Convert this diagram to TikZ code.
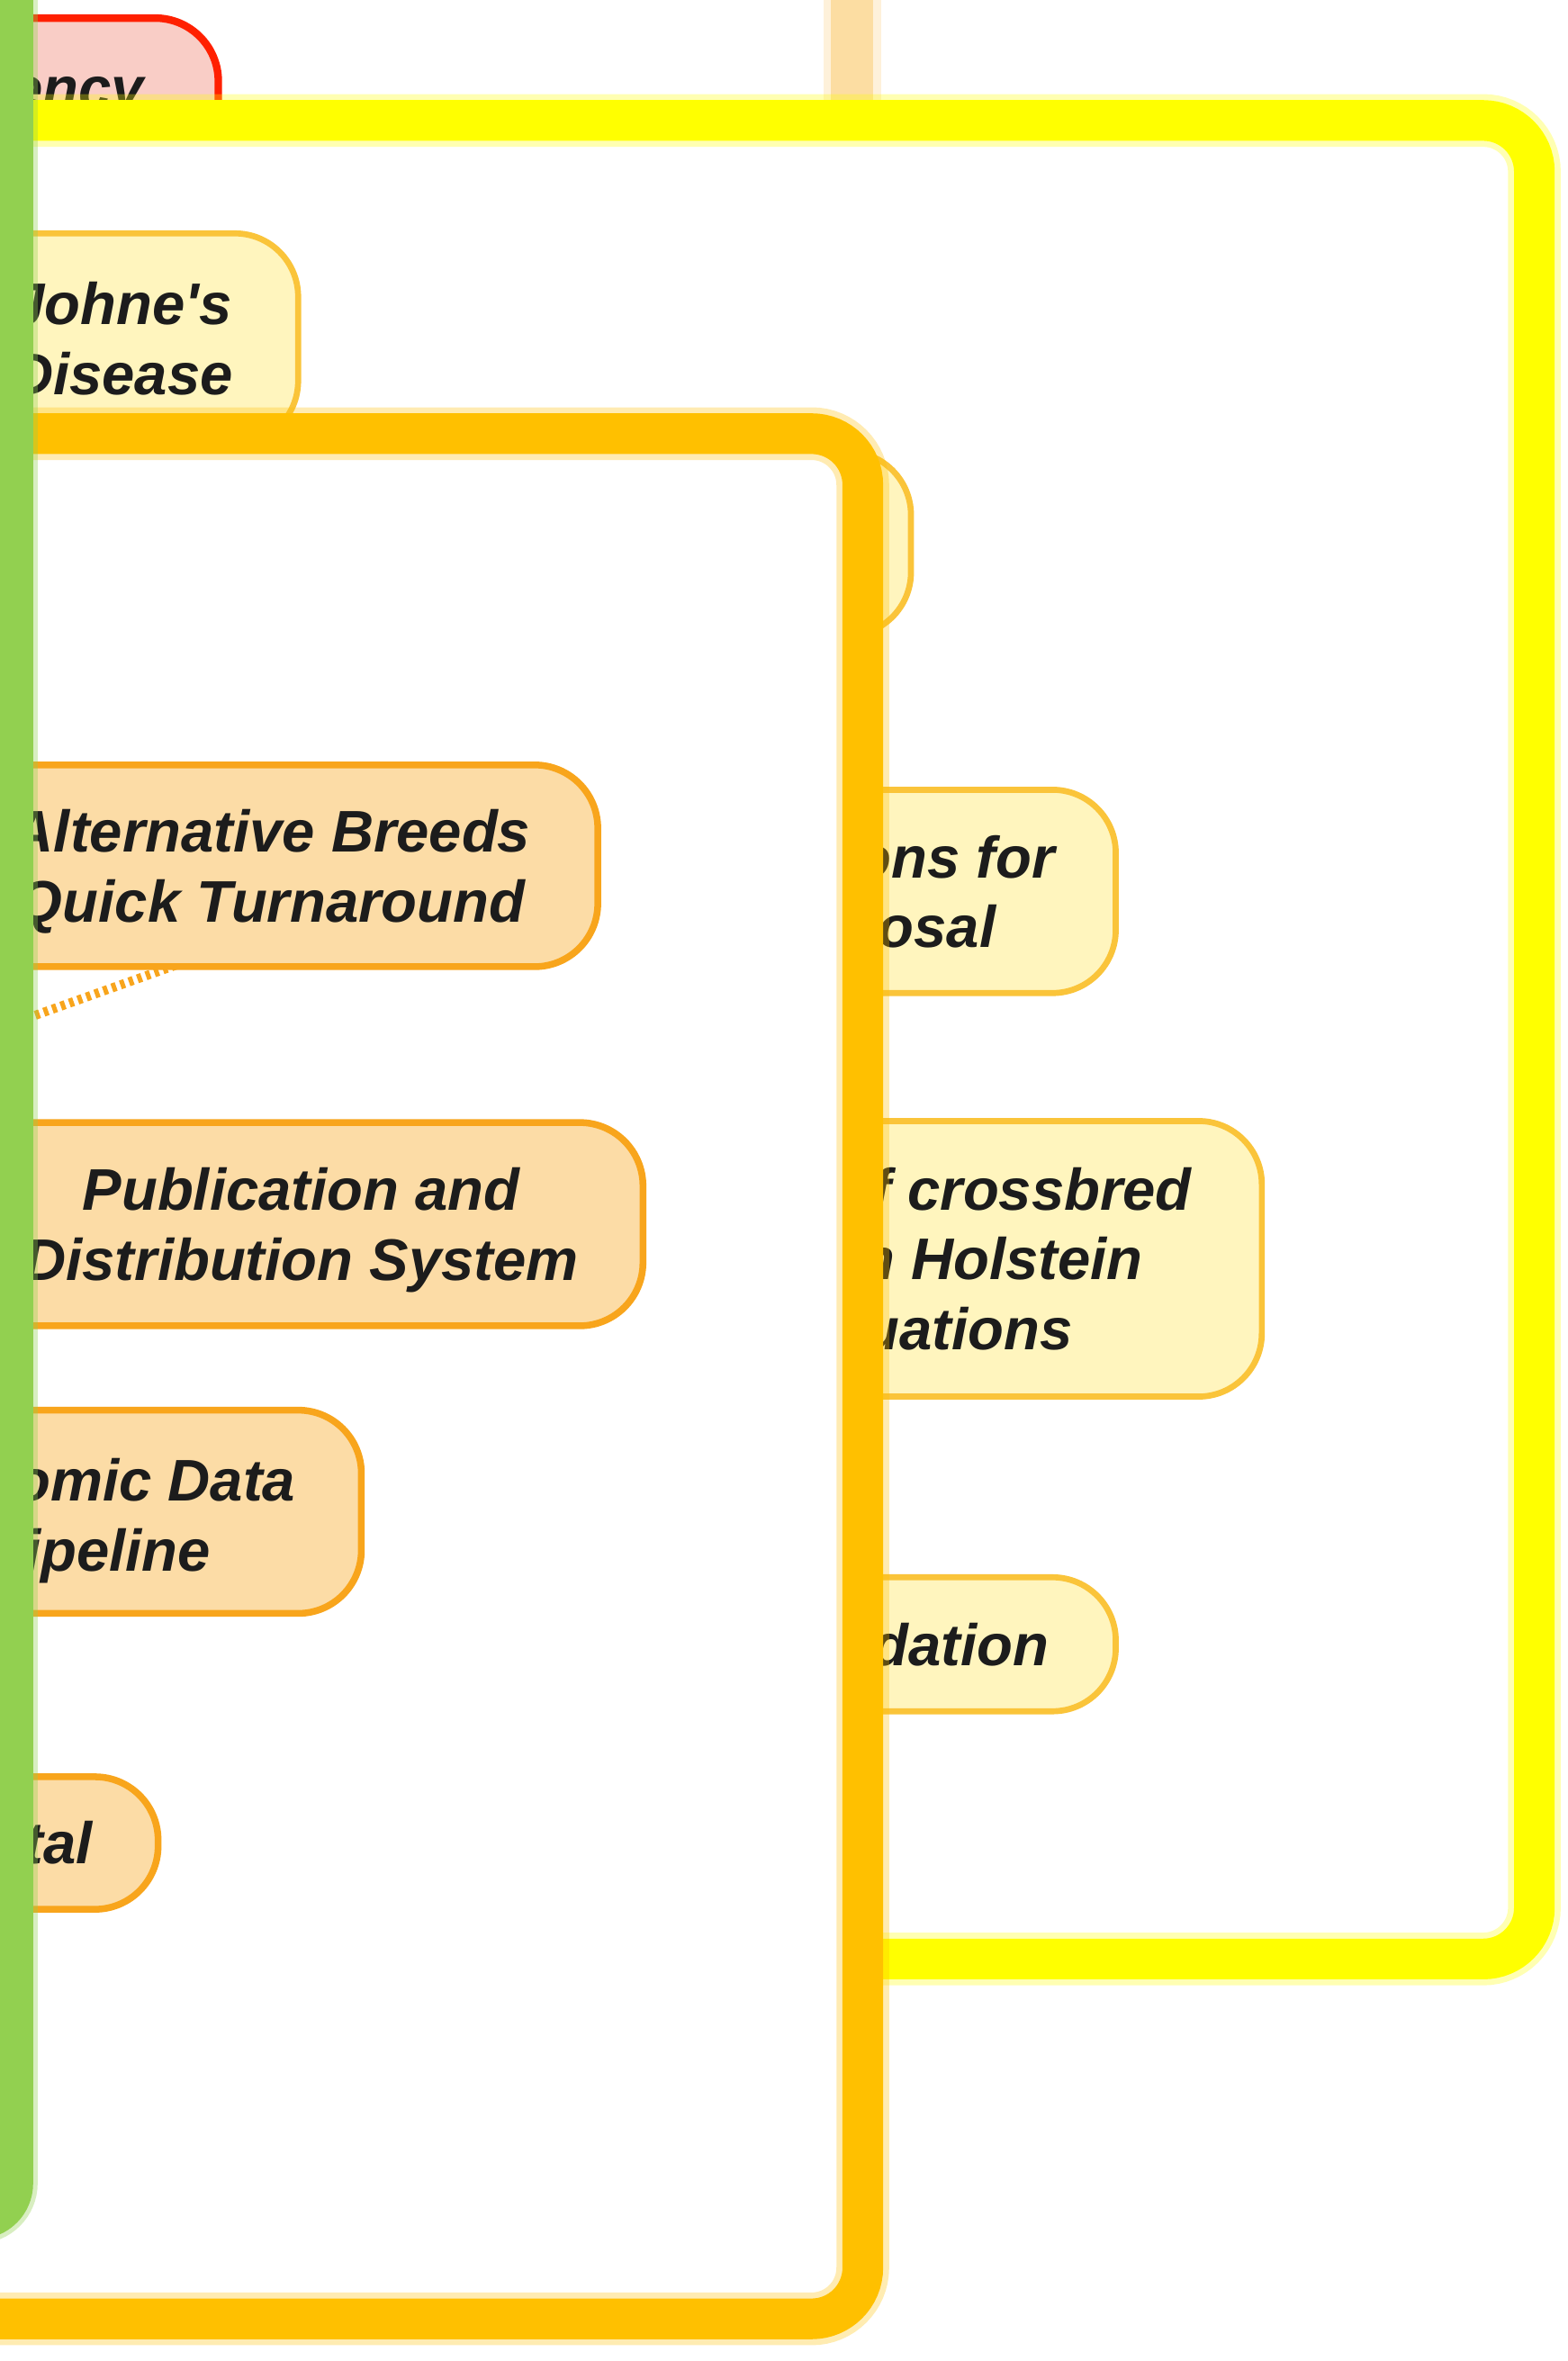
\documentclass[tikz,border=0pt]{standalone}
\usepackage{fontspec}
\setmainfont{Liberation Sans}
\definecolor{txt}{HTML}{1C1C1C}
\definecolor{yfill}{HTML}{FFF5BE}
\definecolor{yline}{HTML}{FAC43A}
\definecolor{ofill}{HTML}{FCDCA6}
\definecolor{oline}{HTML}{F8A51C}
\definecolor{rfill}{HTML}{F9CDC6}
\definecolor{rline}{HTML}{FF2000}
\definecolor{yelframe}{HTML}{FFFF00}
\definecolor{orframe}{HTML}{FFC000}
\definecolor{grframe}{HTML}{92D050}
\definecolor{paleor}{HTML}{FCDDA2}
\newcommand{\tstrut}[1]{\rule{0pt}{#1}}
\begin{document}
\begin{tikzpicture}[x=1pt,y=-1pt,
  lbl/.style={font=\fontsize{39pt}{46.5pt}\selectfont\bfseries\itshape, text=txt, align=center, inner sep=0pt},
  ynode/.style={lbl, fill=yfill, draw=yline, line width=4pt, rounded corners=42pt},
  onode/.style={lbl, fill=ofill, draw=oline, line width=4.5pt, rounded corners=42pt},
  rnode/.style={lbl, fill=rfill, draw=rline, line width=5pt, rounded corners=42pt},
  frame/.style={fill=white, draw=#1, line width=27pt, rounded corners=34pt,
    postaction={fill=none, draw=#1, line width=35pt, opacity=0.3}},
  dotline/.style={draw=oline, line width=6pt, dash pattern=on 3pt off 3pt},
]
\useasboundingbox (0,0) rectangle (1041,1568);
\clip (0,0) rectangle (1041,1568);

% background items
\node[rnode, minimum width=384pt, minimum height=100pt] (feed) at (-47,62) {Feed Efficiency};
\draw[paleor, line width=28pt, postaction={draw=paleor, line width=38pt, opacity=0.4}] (566,-20) -- (566,90);

% yellow frame and its nodes
\draw[frame=yelframe] (-80,80) rectangle (1019,1301);
\node[ynode, minimum width=234pt, minimum height=140pt] (johne) at (81,225) {Johne\textquotesingle s\\Disease};
\node[ynode, minimum width=280pt, minimum height=122pt] (hidden) at (465,361) {};
\node[ynode, minimum width=322pt, minimum height=135pt] (disposal) at (580,592) {\tstrut{36.5pt}Solutions for\\Disposal};
\node[ynode, minimum width=466pt, minimum height=183pt] (crossbred) at (605,836) {Impact of crossbred\\cows in Holstein\\evaluations};
\node[ynode, minimum width=274pt, minimum height=89pt] (valid) at (604,1092) {Validation};

% orange frame and its nodes
\draw[frame=orframe] (-80,288) rectangle (573,1540);
\coordinate (dotstart) at (128,637);
\coordinate (dotend) at (-60,704);
\draw[dotline] (dotstart) -- (dotend);
\node[onode, minimum width=434pt, minimum height=134pt] (alt) at (180,575) {\tstrut{35.5pt}Alternative Breeds\\Quick Turnaround};
\node[onode, minimum width=454pt, minimum height=135pt] (pub) at (200,813) {\tstrut{36.5pt}Publication and\\Distribution System};
\node[onode, minimum width=350pt, minimum height=135pt] (geno) at (65,1004) {\tstrut{40pt}Genomic Data\\Pipeline};
\node[onode, minimum width=198pt, minimum height=88pt] (portal) at (6,1224) {Portal};

% green frame edge on top
\draw[grframe, line width=22pt, rounded corners=26pt, postaction={draw=grframe, line width=28pt, opacity=0.35}] (11,-40) -- (11,1476) -- (-80,1476);
\end{tikzpicture}
\end{document}
